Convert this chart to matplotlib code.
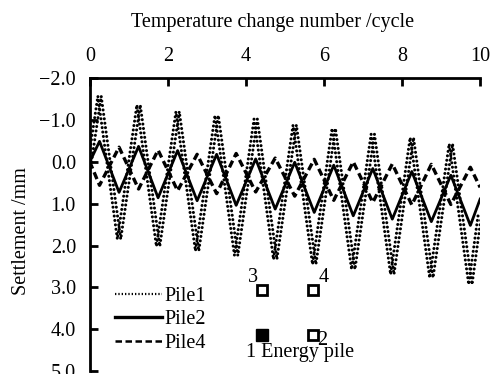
import matplotlib
matplotlib.use("Agg")
import matplotlib.pyplot as plt
import matplotlib.patheffects as pe
from matplotlib.lines import Line2D

plt.rcParams['font.family'] = ['Liberation Serif', 'DejaVu Serif']
plt.rcParams['axes.unicode_minus'] = True

cycles = [0, 0.25, 0.75, 1.25, 1.75, 2.25, 2.75, 3.25, 3.75, 4.25, 4.75,
          5.25, 5.75, 6.25, 6.75, 7.25, 7.75, 8.25, 8.75, 9.25, 9.75, 10]
pile1 = [0.0, -1.57, 1.85, -1.36, 2.02, -1.2, 2.13, -1.11, 2.24, -1.02, 2.33,
         -0.88, 2.45, -0.8, 2.57, -0.66, 2.69, -0.58, 2.77, -0.43, 2.93, 1.21]
pile2 = [0.0, -0.49, 0.73, -0.37, 0.86, -0.27, 0.93, -0.18, 1.04, -0.07, 1.13,
         0.01, 1.21, 0.08, 1.29, 0.16, 1.37, 0.23, 1.43, 0.32, 1.52, 0.89]
pile4 = [0.0, 0.56, -0.35, 0.65, -0.28, 0.69, -0.18, 0.76, -0.2, 0.72, -0.09,
         0.82, -0.06, 0.92, 0.0, 0.97, 0.05, 1.03, 0.06, 1.02, 0.13, 0.61]
labels = ['Pile1', 'Pile2', 'Pile4']

open_x = [4.41, 5.72, 5.72]
open_y = [3.07, 3.07, 4.15]
filled_x = [4.41]
filled_y = [4.15]

FS = 14.5

fig = plt.figure(figsize=(4.96, 3.74), dpi=100)
ax = fig.add_axes([0.181, 0.008, 0.787, 0.783])

dot_style = (0, (0.01, 1.45))
ax.plot(cycles, pile1, color='black', lw=2.2, linestyle=dot_style,
        dash_capstyle='round',
        path_effects=[pe.Stroke(offset=(-1.2, 0)), pe.Stroke(offset=(1.2, 0))])
ax.plot(cycles, pile2, color='black', lw=2.0, linestyle='-')
ax.plot(cycles, pile4, color='black', lw=2.4, linestyle=(0, (2.2, 1.2)))

ax.plot(open_x, open_y, linestyle='none', marker='s', markersize=7,
        markerfacecolor='white', markeredgecolor='black', markeredgewidth=2)
ax.plot(filled_x, filled_y, linestyle='none', marker='s', markersize=8,
        markerfacecolor='black', markeredgecolor='black')

ax.text(4.3, 3.0, '3', fontsize=FS, ha='right', va='bottom')
ax.text(5.86, 3.0, '4', fontsize=FS, ha='left', va='bottom')
ax.text(5.82, 4.05, '2', fontsize=FS, ha='left', va='top')
ax.text(5.38, 4.32, '1 Energy pile', fontsize=FS, ha='center', va='top')

ax.set_xlim(0, 10)
ax.set_ylim(5.0, -2.0)
ax.set_xticks([0, 2, 4, 6, 8, 10])
ax.set_yticks([-2, -1, 0, 1, 2, 3, 4, 5])
ax.set_yticklabels(['\u22122.0', '\u22121.0', '0.0', '1.0', '2.0', '3.0', '4.0', '5.0'])
ax.xaxis.tick_top()
ax.xaxis.set_label_position('top')
ax.tick_params(axis='both', direction='in', length=6, width=2, labelsize=FS)
ax.tick_params(axis='x', pad=9)
ax.tick_params(axis='y', pad=10)
for s in ['right', 'bottom']:
    ax.spines[s].set_visible(False)
for s in ['left', 'top']:
    ax.spines[s].set_linewidth(2)

ax.set_xlabel('Temperature change number /cycle', fontsize=FS, labelpad=14)
ax.xaxis.label.set_x(0.469)
ax.set_ylabel('Settlement /mm', fontsize=FS, labelpad=6)
ax.yaxis.label.set_y(0.478)

handles = [
    Line2D([], [], color='black', lw=1.6, linestyle=(0, (0.6, 0.9))),
    Line2D([], [], color='black', lw=2.4, linestyle='-'),
    Line2D([], [], color='black', lw=1.8, linestyle=(0, (2.6, 1.4))),
]
leg = ax.legend(handles, labels, loc='lower left', bbox_to_anchor=(0.045, 0.035),
                frameon=False, fontsize=FS, handlelength=2.3, handletextpad=0.12,
                labelspacing=0.22, borderaxespad=0)

fig.savefig('out.png', dpi=100)
